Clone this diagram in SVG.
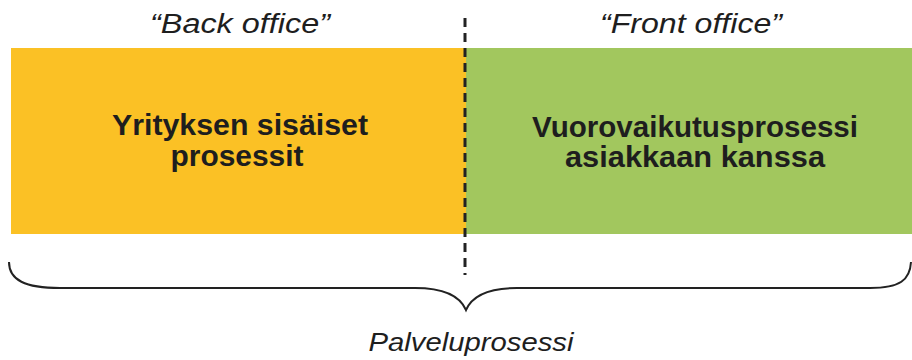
<svg xmlns="http://www.w3.org/2000/svg" width="912" height="360" viewBox="0 0 912 360">
  <style>
    .lbl { font-family: "Liberation Sans", Arial, sans-serif; font-style: italic; fill: #1e1e1e; text-anchor: middle; }
    .box { font-family: "Liberation Sans", Arial, sans-serif; font-weight: bold; font-size: 29px; fill: #1e1e1e; text-anchor: middle; }
    .line { fill: none; stroke: #222; }
  </style>
  <rect width="912" height="360" fill="#ffffff"/>
  <g id="back-office">
    <rect x="11" y="48" width="455" height="186" fill="#FBC125"/>
    <text class="box" x="240" y="135" textLength="256" lengthAdjust="spacingAndGlyphs">Yrityksen sisäiset</text>
    <text class="box" x="237" y="166" textLength="133" lengthAdjust="spacingAndGlyphs">prosessit</text>
  </g>
  <g id="front-office">
    <rect x="466" y="48" width="446" height="186" fill="#A2C75E"/>
    <text class="box" x="695" y="137" textLength="326" lengthAdjust="spacingAndGlyphs">Vuorovaikutusprosessi</text>
    <text class="box" x="695" y="167" textLength="260" lengthAdjust="spacingAndGlyphs">asiakkaan kanssa</text>
  </g>
  <g id="labels">
    <text class="lbl" x="240" y="33" font-size="27" textLength="180" lengthAdjust="spacingAndGlyphs">“Back office”</text>
    <text class="lbl" x="691" y="33" font-size="27" textLength="182" lengthAdjust="spacingAndGlyphs">“Front office”</text>
    <text class="lbl" x="471" y="351" font-size="25" textLength="205" lengthAdjust="spacingAndGlyphs">Palveluprosessi</text>
  </g>
  <g id="connectors">
    <line class="line" x1="465" y1="18" x2="465" y2="275" stroke-width="3" stroke-dasharray="9,6"/>
    <path class="line" stroke-width="2" d="M 9,262 C 9,280 25,288 60,288 L 415,288 C 445,288 460,296 466,310 C 472,296 487,288 517,288 L 870,288 C 900,288 910,280 911,262"/>
  </g>
</svg>
